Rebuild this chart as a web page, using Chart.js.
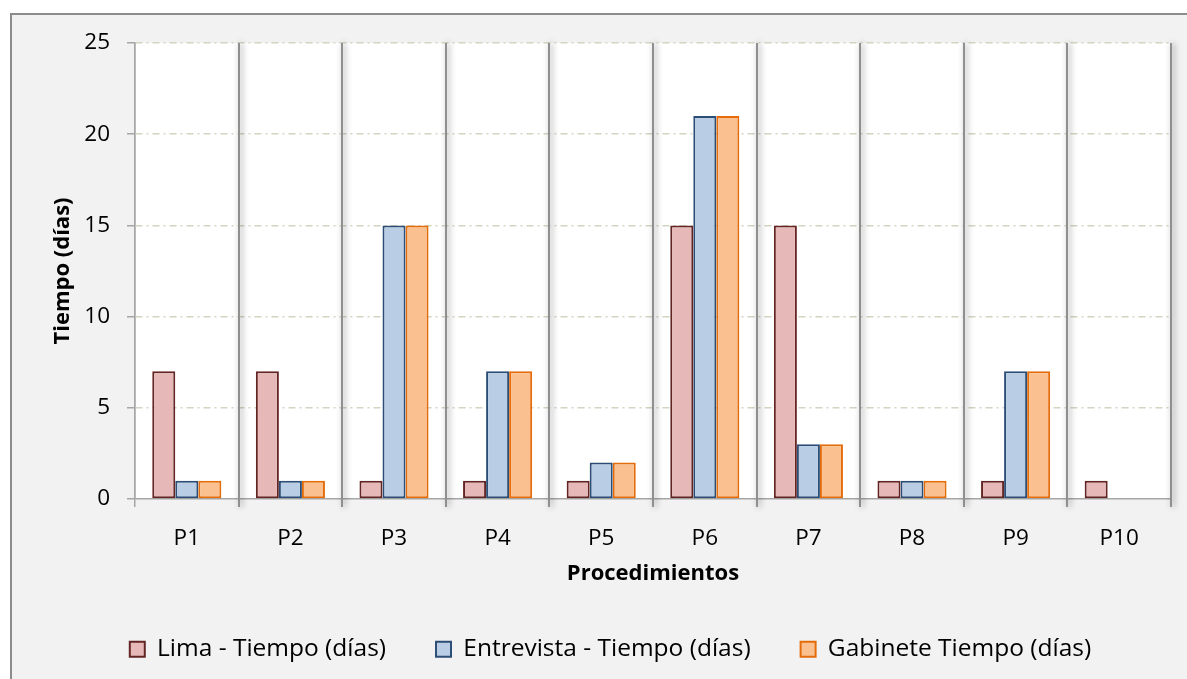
<!DOCTYPE html>
<html>
<head>
<meta charset="utf-8">
<script src="https://cdn.jsdelivr.net/npm/chart.js@4/dist/chart.umd.min.js"></script>
<style>
  html, body { margin: 0; padding: 0; background: #ffffff; width: 1187px; height: 679px; overflow: hidden; }
  #frame { position: absolute; left: 10px; top: 13px; width: 1200px; height: 700px; background: #f2f2f2; border-left: 2px solid #8c8c8c; border-top: 2px solid #8c8c8c; box-sizing: border-box; }
  #wrap { position: absolute; left: 0; top: 0; width: 1187px; height: 679px; }
</style>
</head>
<body>
<div id="frame"></div>
<div id="wrap"><canvas id="c" width="1187" height="679"></canvas></div>
<script>
const categories = ['P1', 'P2', 'P3', 'P4', 'P5', 'P6', 'P7', 'P8', 'P9', 'P10'];
const limaValues = [7, 7, 1, 1, 1, 15, 15, 1, 1, 1];
const entrevistaValues = [1, 1, 15, 7, 2, 21, 3, 1, 7, 0];
const gabineteValues = [1, 1, 15, 7, 2, 21, 3, 1, 7, 0];
const seriesNames = ['Lima - Tiempo (días)', 'Entrevista - Tiempo (días)', 'Gabinete Tiempo (días)'];
const yTicks = [0, 5, 10, 15, 20, 25];
const xTitle = 'Procedimientos';
const yTitle = 'Tiempo (días)';

const FONT = 'Open Sans';
const FS = 22.5;
const LFS = 24.5;
const SEP = '#8f8f8f';
const AXIS = '#a6a6a6';
const DASH = [7, 4, 2, 4];

const areaBg = {
  id: 'areaBg',
  beforeDraw(chart) {
    const {ctx, chartArea: a} = chart;
    ctx.save();
    ctx.fillStyle = '#ffffff';
    ctx.fillRect(a.left, a.top, a.right - a.left, a.bottom - a.top);
    ctx.restore();
  }
};

const sepShadow = {
  id: 'sepShadow',
  beforeDatasetsDraw(chart) {
    const {ctx, chartArea: a} = chart;
    const xs = chart.scales.x;
    const half = (xs.getPixelForValue(1) - xs.getPixelForValue(0)) / 2;
    ctx.save();
    ctx.strokeStyle = SEP;
    ctx.lineWidth = 2;
    ctx.shadowColor = 'rgba(0,0,0,0.45)';
    ctx.shadowBlur = 6;
    ctx.shadowOffsetX = 2;
    for (let i = 0; i < categories.length; i++) {
      const x = Math.round(xs.getPixelForValue(i) + half);
      ctx.beginPath();
      ctx.moveTo(x, a.top);
      ctx.lineTo(x, a.bottom + 8);
      ctx.stroke();
    }
    ctx.restore();
  }
};

new Chart(document.getElementById('c'), {
  type: 'bar',
  data: {
    labels: categories,
    datasets: [
      { label: seriesNames[0], data: limaValues, backgroundColor: '#e6b9b8', borderColor: '#632523', borderWidth: 2, borderSkipped: false },
      { label: seriesNames[1], data: entrevistaValues, backgroundColor: '#b9cde5', borderColor: '#2c4d75', borderWidth: 2, borderSkipped: false },
      { label: seriesNames[2], data: gabineteValues, backgroundColor: '#fac090', borderColor: '#e46c0a', borderWidth: 2, borderSkipped: false }
    ]
  },
  options: {
    responsive: false,
    animation: false,
    events: [],
    categoryPercentage: 0.667,
    barPercentage: 1.0,
    layout: { padding: { left: 50, right: 16, top: 43, bottom: 7.5 } },
    plugins: {
      legend: {
        position: 'bottom',
        labels: {
          boxWidth: 15, boxHeight: 15, padding: 50,
          color: '#000', font: { family: FONT, size: LFS }
        }
      },
      tooltip: { enabled: false }
    },
    scales: {
      x: {
        offset: true,
        afterFit(s) { s.height = 88; },
        grid: {
          offset: true,
          drawOnChartArea: true,
          color: (ctx) => ctx.index === 0 ? AXIS : SEP,
          lineWidth: (ctx) => ctx.index === 0 ? 1.5 : 2,
          tickLength: 8,
          tickColor: (ctx) => ctx.index === 0 ? AXIS : SEP,
          tickWidth: (ctx) => ctx.index === 0 ? 1.5 : 2
        },
        border: { display: true, color: AXIS, width: 1.5 },
        ticks: { color: '#000', font: { family: FONT, size: FS }, padding: 18 },
        title: { display: true, text: xTitle, color: '#000', font: { family: FONT, size: 22, weight: 'bold' }, padding: { top: 0, bottom: 0 } }
      },
      y: {
        min: 0, max: 25,
        afterFit(s) { s.width = 85; },
        afterBuildTicks(s) { s.ticks = yTicks.map(v => ({ value: v })); },
        grid: {
          color: (ctx) => (ctx.tick && ctx.tick.value === 0) ? 'rgba(0,0,0,0)' : '#d2d5c2',
          lineWidth: 1.5,
          borderDash: DASH,
          tickLength: 8,
          tickColor: AXIS,
          tickWidth: 1.5,
          tickBorderDash: []
        },
        border: { display: true, color: AXIS, width: 1.5, dash: DASH },
        ticks: { color: '#000', font: { family: FONT, size: FS }, padding: 17 },
        title: { display: true, text: yTitle, color: '#000', font: { family: FONT, size: 22, weight: 'bold' }, padding: { top: 0, bottom: 0 } }
      }
    }
  },
  plugins: [areaBg, sepShadow]
});
</script>
</body>
</html>
